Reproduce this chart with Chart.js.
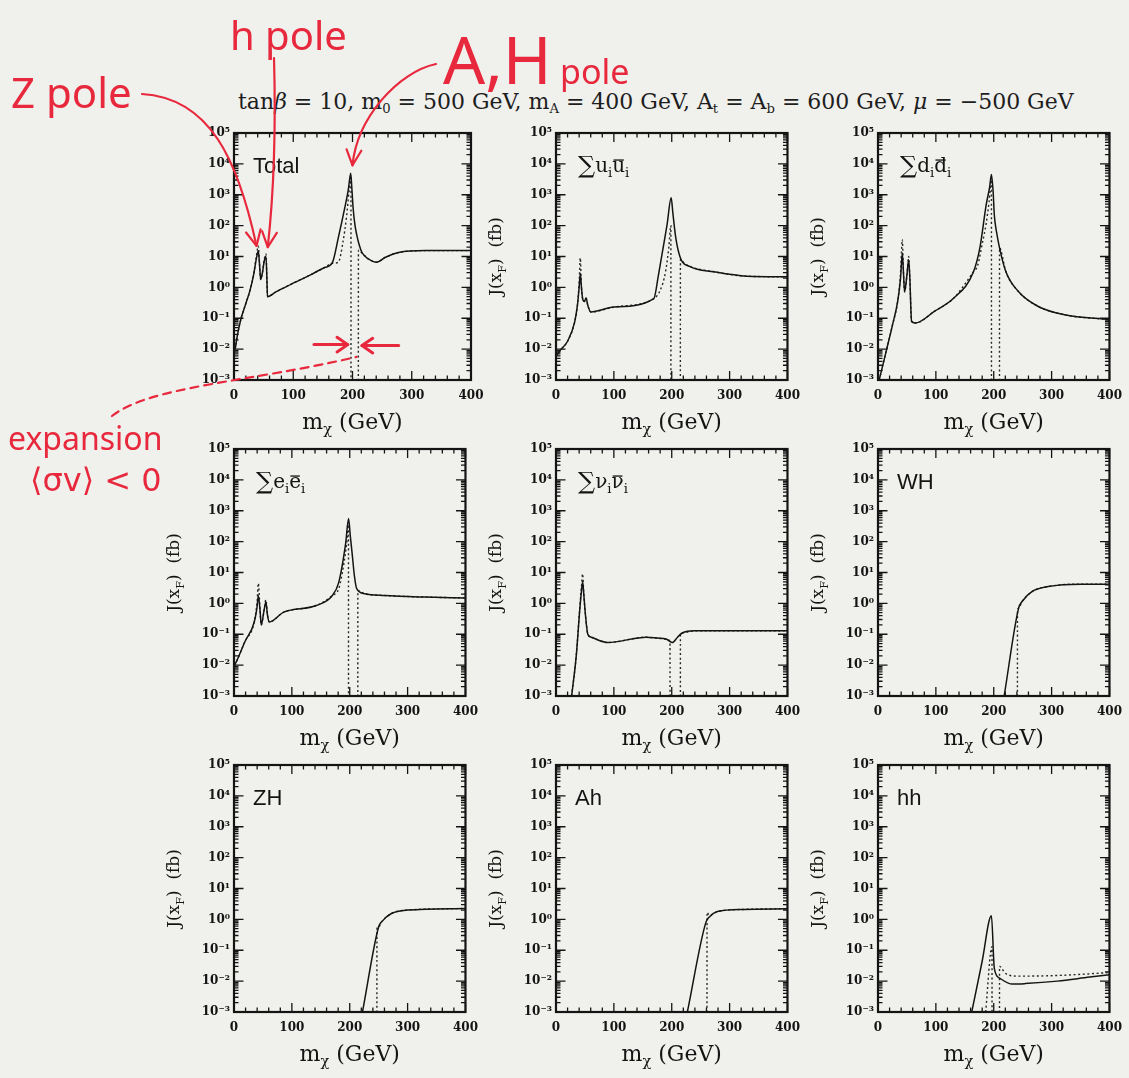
<!DOCTYPE html>
<html>
<head>
<meta charset="utf-8">
<script src="https://cdn.jsdelivr.net/npm/chart.js@4"></script>
<style>
  body { margin: 0; width: 1129px; height: 1078px; overflow: hidden; position: relative; background: #f0f0ed; }
  canvas { position: absolute; }
  #title { position: absolute; left: 238px; top: 89px; font: 22px 'DejaVu Serif'; line-height: 26px; color: #1e1e1e; white-space: nowrap; }
  #title sub { font-size: 0.6em; vertical-align: -0.28em; line-height: 0; }
</style>
</head>
<body>
<div id="title">tan<i>β</i> = 10, m<sub>0</sub> = 500 GeV, m<sub>A</sub> = 400 GeV, A<sub>t</sub> = A<sub>b</sub> = 600 GeV, <i>μ</i> = −500 GeV</div>
<script>
// [m_chi (GeV), J(x_F) (fb)]; null = gap, 1e-6 = drops below the axis (<sigma v> < 0)
const totalFull = [[2,0.01],[6,0.03],[12,0.1],[20,0.3],[27,0.8],[33,2.5],[38,9],[41,15],[43,6],[45,1.8],[48,3],[51,7],[54,10],[55.5,2],[56.5,0.5],[70,0.7],[96,1.25],[130,2.6],[153,4.4],[166,6.3],[176,40],[187,380],[193,1500],[197,5000],[199,1500],[201,380],[204,110],[207,52],[211,25],[216,13.5],[227,8.3],[241,6.5],[255,9.3],[278,13.5],[323,15.5],[400,15.5]];
const totalExp = [[2,0.01],[6,0.03],[12,0.1],[20,0.3],[27,0.8],[33,2.5],[38,11],[41,22],[43,6],[45,1.8],[48,3],[51,8],[54,12],[55.5,2],[56.5,0.5],[70,0.7],[96,1.25],[130,2.6],[153,4.4],[166,6],[176,6.5],[184,30],[190,200],[194,1200],[197.4,3500],[197.5,1e-6],[203,null],[209.8,1e-6],[210,16],[216,13],[227,8.3],[241,6.5],[255,9.3],[278,13.5],[323,15.5],[400,15.5]];

const uuFull = [[0,0.006],[9,0.01],[20,0.018],[32,0.072],[37,0.26],[40,1],[42,2.8],[44,1],[46,0.43],[49,0.35],[52,0.45],[55,0.26],[60,0.16],[100,0.23],[169,0.43],[177,2.5],[184,14.5],[192,110],[199,800],[202,250],[207,40],[215,9],[232,4.7],[273,3.2],[330,2.3],[400,2.2]];
const uuExp = [[0,0.006],[9,0.01],[20,0.018],[32,0.072],[37,0.26],[40,1.5],[42,9],[44,1],[46,0.43],[49,0.35],[52,0.45],[55,0.26],[60,0.16],[100,0.23],[169,0.43],[180,0.8],[189,3],[195,20],[198.5,100],[198.6,1e-6],[206,null],[214.8,1e-6],[215,8],[222,6],[232,4.7],[273,3.2],[330,2.3],[400,2.2]];

const ddFull = [[2,0.001],[14,0.0083],[25,0.06],[34,0.35],[39,2],[42,13],[44,3],[46,0.72],[50,2.5],[53,7.8],[55,2],[58,0.08],[64,0.07],[98,0.17],[131,0.45],[165,3.2],[176,19],[187,480],[193,1800],[196,4500],[199,1200],[201,220],[205,60],[210,19],[221,3.2],[243,0.72],[277,0.24],[322,0.13],[400,0.09]];
const ddExp = [[2,0.001],[14,0.0083],[25,0.06],[34,0.35],[39,3],[42,35],[44,3],[46,0.72],[50,2.5],[53,10],[55,2],[58,0.08],[64,0.07],[98,0.17],[131,0.45],[165,3.2],[172,5],[180,25],[187,120],[192,600],[196,3000],[196.1,1e-6],[204,null],[209.9,1e-6],[210,19],[221,3.2],[243,0.72],[277,0.24],[322,0.13],[400,0.09]];

const eeFull = [[1,0.01],[5,0.014],[19,0.058],[35,0.25],[40,0.8],[42,1.8],[45,0.6],[47,0.2],[52,0.6],[55,1.1],[58,0.4],[61,0.25],[86,0.52],[142,0.85],[170,1.8],[181,4.8],[193,90],[198,560],[201,150],[204,44],[208,8],[212,3],[226,2.05],[260,1.8],[330,1.6],[400,1.5]];
const eeExp = [[1,0.01],[5,0.014],[19,0.058],[35,0.25],[40,1.2],[42,4.5],[45,0.6],[47,0.2],[52,0.6],[55,1.3],[58,0.4],[61,0.25],[86,0.52],[142,0.85],[170,1.8],[181,3],[190,20],[195,100],[197.8,350],[197.9,1e-6],[206,null],[213.9,1e-6],[214,2.6],[226,2.05],[260,1.8],[330,1.6],[400,1.5]];

const nnFull = [[27,0.001],[35,0.02],[41,0.6],[44,2.5],[46,5],[48,2],[51,0.4],[55,0.1],[61,0.08],[89,0.054],[156,0.08],[175,0.075],[190,0.07],[201,0.054],[210,0.08],[218,0.11],[240,0.13],[400,0.13]];
const nnExp = [[27,0.001],[35,0.02],[41,0.7],[44,3.5],[46,9],[48,2],[51,0.4],[55,0.1],[61,0.08],[89,0.054],[156,0.08],[175,0.075],[190,0.07],[197,0.058],[197.1,1e-6],[206,null],[214.9,1e-6],[215,0.1],[218,0.11],[240,0.13],[400,0.13]];

const whFull = [[218,0.001],[243,0.7],[249,1.15],[266,2.4],[294,3.5],[350,4.2],[400,4.2]];
const whExp = [[240.9,1e-6],[241,0.6],[243,0.7],[249,1.15],[266,2.4],[294,3.5],[350,4.2],[400,4.2]];

const zhFull = [[222,0.001],[250,0.58],[255,0.83],[272,1.55],[300,2],[400,2.25]];
const zhExp = [[246.9,1e-6],[247,0.5],[250,0.58],[255,0.83],[272,1.55],[300,2],[400,2.25]];

const ahFull = [[227,0.001],[259,0.8],[265,1.2],[279,1.8],[324,2.1],[400,2.2]];
const ahExp = [[260.9,1e-6],[261,1.7],[265,1.35],[279,1.8],[324,2.1],[400,2.2]];

const hhFull = [[162,0.001],[180,0.044],[196,1.3],[201,0.026],[210,0.0126],[232,0.008],[254,0.0083],[310,0.01],[366,0.0135],[400,0.016]];
const hhExp = [[186,0.001],[197,0.13],[197.1,1e-6],[203,null],[209.9,1e-6],[210,0.03],[220,0.018],[240,0.0145],[300,0.015],[360,0.017],[400,0.019]];

const xTicks = [0, 100, 200, 300, 400];
const yDecades = [-3, -2, -1, 0, 1, 2, 3, 4, 5];

// page layout
const colLeft = [234, 556, 878];
const rowTop = [133, 449, 765];
const plotW = 237, plotH = 247;
const INK = '#141414';
const RED = '#e8283c';
const SERIF = "'DejaVu Serif'";
const SANS = "'Liberation Sans'";

const supMap = {'-': '⁻', '0': '⁰', '1': '¹', '2': '²', '3': '³', '4': '⁴', '5': '⁵'};
function powLabel(v) {
  const e = Math.round(Math.log10(v));
  if (Math.abs(Math.log10(v) - e) > 1e-6) return '';
  return '10' + String(e).split('').map(c => supMap[c]).join('');
}

function sumLabel(f) {
  return [{t: '∑', big: 1.2}, {t: f}, {t: 'i', sub: true}, {t: f, bar: true}, {t: 'i', sub: true}];
}

function drawRich(ctx, parts, x, y, size, family, align) {
  const items = parts.map(p => {
    const s = size * (p.sub ? 0.66 : (p.big || 1));
    ctx.font = s + 'px ' + family;
    return {p, s, w: ctx.measureText(p.t).width};
  });
  const total = items.reduce((a, it) => a + it.w, 0);
  let cx = align === 'center' ? x - total / 2 : x;
  ctx.textAlign = 'left';
  ctx.textBaseline = 'middle';
  for (const it of items) {
    ctx.font = it.s + 'px ' + family;
    const dy = it.p.sub ? size * 0.34 : 0;
    ctx.fillText(it.p.t, cx, y + dy);
    if (it.p.bar) ctx.fillRect(cx + it.w * 0.1, y - size * 0.38, it.w * 0.8, 1.3);
    cx += it.w;
  }
}

function head(ctx, tip, from, len, spread) {
  const ang = Math.atan2(tip[1] - from[1], tip[0] - from[0]);
  ctx.beginPath();
  ctx.moveTo(tip[0] - len * Math.cos(ang - spread), tip[1] - len * Math.sin(ang - spread));
  ctx.lineTo(tip[0], tip[1]);
  ctx.lineTo(tip[0] - len * Math.cos(ang + spread), tip[1] - len * Math.sin(ang + spread));
  ctx.stroke();
}

function curveArrow(ctx, p0, c1, c2, tip) {
  ctx.beginPath();
  ctx.moveTo(p0[0], p0[1]);
  ctx.bezierCurveTo(c1[0], c1[1], c2[0], c2[1], tip[0], tip[1]);
  ctx.stroke();
  head(ctx, tip, c2, 17, 0.45);
}

function straightArrow(ctx, from, tip) {
  ctx.beginPath();
  ctx.moveTo(from[0], from[1]);
  ctx.lineTo(tip[0], tip[1]);
  ctx.stroke();
  head(ctx, tip, from, 13, 0.6);
}

// hand-written notes on the first panel
function drawNotes(chart) {
  const {ctx} = chart;
  const sx = v => chart.scales.x.getPixelForValue(v);
  const sy = v => chart.scales.y.getPixelForValue(v);
  ctx.save();
  ctx.fillStyle = RED;
  ctx.strokeStyle = RED;
  ctx.lineCap = 'round';
  ctx.lineJoin = 'round';
  ctx.textAlign = 'left';
  ctx.textBaseline = 'alphabetic';
  ctx.font = "42px 'Noto Sans'";
  ctx.fillText('Z pole', 11, 108);
  ctx.font = "40px 'Noto Sans'";
  ctx.fillText('h pole', 230, 50);
  ctx.font = "66px 'Noto Sans'";
  ctx.fillText('A,H', 443, 84);
  ctx.font = "34px 'Noto Sans'";
  ctx.fillText('pole', 560, 84);
  ctx.font = "32px 'Noto Sans'";
  ctx.fillText('expansion', 8, 450);
  ctx.font = "32px 'DejaVu Sans'";
  ctx.fillText('⟨σv⟩ < 0', 30, 491);

  ctx.lineWidth = 2.2;
  curveArrow(ctx, [142, 94], [210, 98], [238, 160], [sx(38), sy(22)]);
  curveArrow(ctx, [274, 58], [276, 130], [273, 200], [sx(57), sy(20)]);
  curveArrow(ctx, [436, 64], [398, 72], [357, 118], [sx(200), sy(9000)]);

  ctx.lineWidth = 3;
  straightArrow(ctx, [sx(135), sy(0.014)], [sx(192), sy(0.014)]);
  straightArrow(ctx, [sx(278), sy(0.013)], [sx(216), sy(0.013)]);

  ctx.lineWidth = 2.2;
  ctx.setLineDash([8, 6]);
  ctx.beginPath();
  ctx.moveTo(112, 416);
  ctx.bezierCurveTo(150, 386, 250, 382, sx(207), sy(0.0056));
  ctx.stroke();
  ctx.restore();
}

function framePlugin(cfg) {
  return {
    id: 'frame',
    afterDraw(chart) {
      const {ctx, chartArea: a, scales: {x, y}} = chart;
      ctx.save();
      ctx.strokeStyle = INK;
      ctx.lineWidth = 1.3;
      ctx.beginPath();
      for (let v = 0; v <= 400; v += 20) {
        const px = x.getPixelForValue(v);
        const len = xTicks.includes(v) ? 9 : 4.5;
        ctx.moveTo(px, a.bottom); ctx.lineTo(px, a.bottom - len);
        ctx.moveTo(px, a.top); ctx.lineTo(px, a.top + len);
      }
      for (const e of yDecades) {
        for (let k = 1; k < 10; k++) {
          if (e === 5 && k > 1) break;
          const py = y.getPixelForValue(k * Math.pow(10, e));
          const len = k === 1 ? 9.5 : 4.5;
          ctx.moveTo(a.left, py); ctx.lineTo(a.left + len, py);
          ctx.moveTo(a.right, py); ctx.lineTo(a.right - len, py);
        }
      }
      ctx.stroke();
      ctx.lineWidth = 2.2;
      ctx.strokeRect(a.left, a.top, a.width, a.height);

      ctx.fillStyle = INK;
      drawRich(ctx, [{t: 'm'}, {t: 'χ', sub: true}, {t: ' (GeV)'}], (a.left + a.right) / 2, a.bottom + 43, 22, SERIF, 'center');
      if (cfg.yTitle !== false) {
        ctx.save();
        ctx.translate(a.left - 59, (a.top + a.bottom) / 2);
        ctx.rotate(-Math.PI / 2);
        drawRich(ctx, [{t: 'J(x'}, {t: 'F', sub: true}, {t: ')  (fb)'}], 0, 0, 17, SERIF, 'center');
        ctx.restore();
      }
      if (typeof cfg.label === 'string') {
        ctx.font = '22px ' + SANS;
        ctx.textAlign = 'left';
        ctx.textBaseline = 'middle';
        ctx.fillText(cfg.label, a.left + 19, a.top + 34);
      } else {
        drawRich(ctx, cfg.label, a.left + 22, a.top + 34, 20, SERIF, 'left');
      }
      ctx.restore();
      if (cfg.notes) drawNotes(chart);
    }
  };
}

function toPoints(arr) {
  return arr.map(([x, y]) => ({x, y}));
}

function makePanel(cfg) {
  const left = colLeft[cfg.col], top = rowTop[cfg.row];
  const box = cfg.box || {x: left - 80, y: top - 14, w: plotW + 96, h: plotH + 78};
  const c = document.createElement('canvas');
  c.width = box.w; c.height = box.h;
  Object.assign(c.style, {left: box.x + 'px', top: box.y + 'px', width: box.w + 'px', height: box.h + 'px'});
  document.body.appendChild(c);
  const pad = {
    left: left - 60 - box.x,
    top: top - box.y,
    right: box.x + box.w - left - plotW,
    bottom: box.y + box.h - top - plotH - 60
  };
  new Chart(c, {
    type: 'scatter',
    data: {
      datasets: [
        {data: toPoints(cfg.full), showLine: true, borderColor: INK, borderWidth: 1.5, pointRadius: 0, cubicInterpolationMode: 'monotone'},
        {data: toPoints(cfg.exp), showLine: true, borderColor: '#262626', borderWidth: 1.4, borderDash: [2, 2.6], pointRadius: 0, cubicInterpolationMode: 'monotone'}
      ]
    },
    options: {
      responsive: false,
      animation: false,
      events: [],
      layout: {padding: pad},
      plugins: {legend: {display: false}, tooltip: {enabled: false}},
      scales: {
        x: {
          type: 'linear', min: 0, max: 400,
          afterFit(s) { s.height = 60; },
          afterBuildTicks(s) { s.ticks = xTicks.map(v => ({value: v})); },
          grid: {display: false, drawTicks: false},
          border: {display: false},
          ticks: {padding: 9, color: INK, font: {family: 'DejaVu Serif', size: 12, weight: 'bold'}}
        },
        y: {
          type: 'logarithmic', min: 1e-3, max: 1e5,
          afterFit(s) { s.width = 60; },
          afterBuildTicks(s) { s.ticks = yDecades.map(e => ({value: Math.pow(10, e)})); },
          grid: {display: false, drawTicks: false},
          border: {display: false},
          ticks: {padding: 4, autoSkip: false, color: INK, font: {family: 'DejaVu Serif', size: 12, weight: 'bold'}, callback: v => powLabel(v)}
        }
      }
    },
    plugins: [framePlugin(cfg)]
  });
}

makePanel({col: 0, row: 0, full: totalFull, exp: totalExp, label: 'Total', yTitle: false, notes: true, box: {x: 0, y: 0, w: 700, h: 512}});
makePanel({col: 1, row: 0, full: uuFull, exp: uuExp, label: sumLabel('u')});
makePanel({col: 2, row: 0, full: ddFull, exp: ddExp, label: sumLabel('d')});
makePanel({col: 0, row: 1, full: eeFull, exp: eeExp, label: sumLabel('e')});
makePanel({col: 1, row: 1, full: nnFull, exp: nnExp, label: sumLabel('ν')});
makePanel({col: 2, row: 1, full: whFull, exp: whExp, label: 'WH'});
makePanel({col: 0, row: 2, full: zhFull, exp: zhExp, label: 'ZH'});
makePanel({col: 1, row: 2, full: ahFull, exp: ahExp, label: 'Ah'});
makePanel({col: 2, row: 2, full: hhFull, exp: hhExp, label: 'hh'});
</script>
</body>
</html>
